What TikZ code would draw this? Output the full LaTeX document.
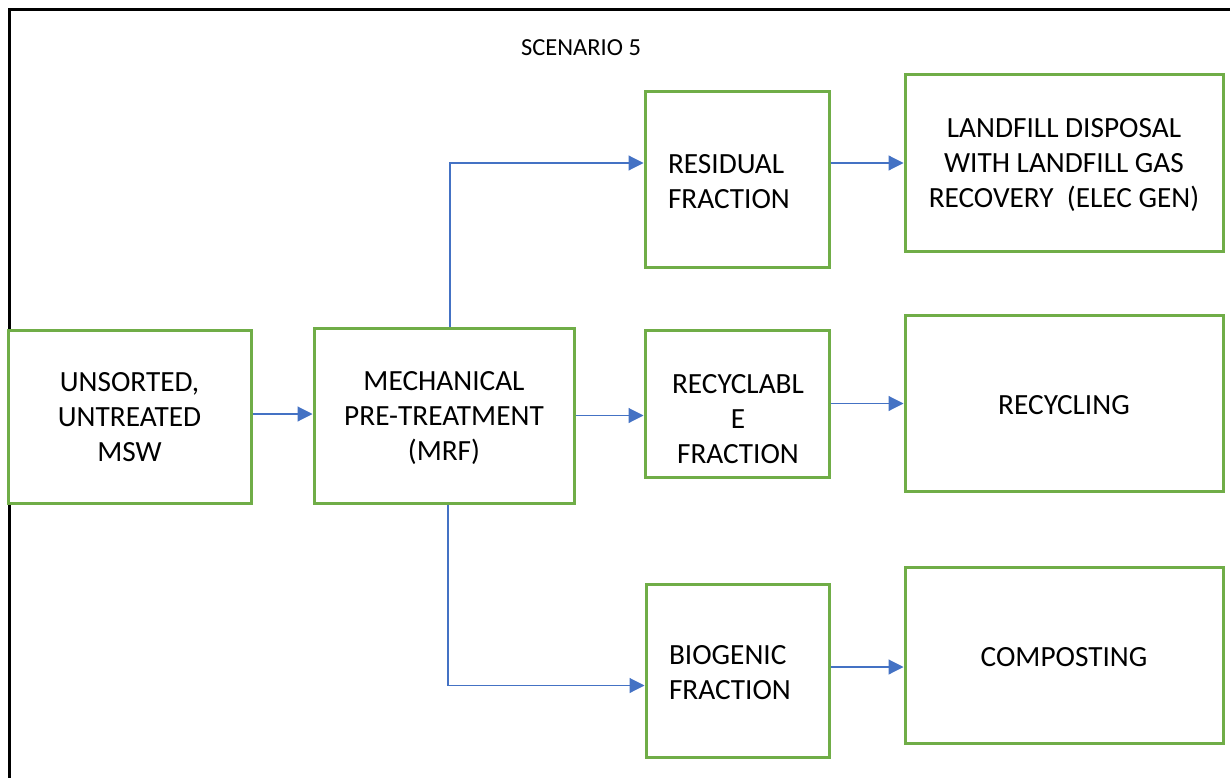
\documentclass[tikz,border=0pt]{standalone}
\usepackage{fontspec}
\setmainfont{Carlito}
\usetikzlibrary{arrows.meta}
\definecolor{boxgreen}{HTML}{70AD47}
\definecolor{flowblue}{HTML}{4472C4}
\tikzset{
  % line struts so every text block sits at the same height in its box
  struts/.style={execute at begin node={\rule{0pt}{29pt}},
                 execute at end node={\rule[-6pt]{0pt}{6pt}}},
  lbl/.style={inner sep=0pt, align=center, struts,
    font=\fontsize{29.3}{35}\selectfont},
  stage/.style={lbl, draw=boxgreen, line width=3pt, fill=white, rectangle},
  leftstage/.style={stage, align=left, inner xsep=23pt},
  flow/.style={draw=flowblue, line width=1.1pt,
    -{Triangle[length=15pt, width=15pt]}},
  frame/.style={draw=black, line width=3pt}
}
\begin{document}
\begin{tikzpicture}[x=1pt, y=-1pt]
  \useasboundingbox (0,0) rectangle (1230,778);
  % open frame: top and left edges only
  \coordinate (fTL) at (9,9.5);
  \coordinate (fTR) at (1230,9.5);
  \coordinate (fBL) at (9,778);
  \draw[frame] (fTR) -- (fTL) -- (fBL);

  \node[inner sep=0pt, font=\fontsize{24.5}{30}\selectfont] (title) at (581,48) {SCENARIO 5};

  % process stages
  \node[stage, text depth=-3pt, minimum width=243pt, minimum height=173pt] (msw) at (129.5,416.5)
    {UNSORTED,\\UNTREATED\\MSW};
  \node[stage, text depth=-8pt, minimum width=260pt, minimum height=175pt] (mrf) at (444,415.5)
    {MECHANICAL\\PRE-TREATMENT\\(MRF)};
  \node[leftstage, text width=138pt, minimum height=175pt] (res) at (737,179.5)
    {RESIDUAL\\FRACTION};
  \node[draw=boxgreen, line width=3pt, rectangle, inner sep=0pt,
        minimum width=184pt, minimum height=147pt] (rcf) at (737,403.5) {};
  \node[lbl] (rcftext) at (738,422) {RECYCLABL\\E\\FRACTION};
  \node[leftstage, text width=137pt, minimum height=173pt] (bio) at (737.5,670.5)
    {BIOGENIC\\FRACTION};

  % end destinations
  \node[stage, text depth=-12pt, minimum width=318pt, minimum height=176pt] (land) at (1064,163)
    {LANDFILL DISPOSAL\\WITH LANDFILL GAS\\RECOVERY\ \ (ELEC GEN)};
  \node[stage, minimum width=318pt, minimum height=176pt] (rcy) at (1064,403)
    {RECYCLING};
  \node[stage, minimum width=318pt, minimum height=176pt] (comp) at (1064,655)
    {COMPOSTING};

  % flows
  \draw[flow] (msw.east |- 0,414) -- (mrf.west |- 0,414);
  \draw[flow] (mrf.east) -- (mrf.east -| rcf.west);
  \draw[flow] ([xshift=6pt]mrf.north) |- (land.west -| res.west);
  \draw[flow] ([xshift=4pt]mrf.south) |- ([yshift=-15pt]bio.west);
  \draw[flow] (land.west -| res.east) -- (land.west);
  \draw[flow] (rcf.east) -- (rcf.east -| rcy.west);
  \draw[flow] (bio.east |- comp.west) ++(0,12) coordinate (bioout) -- (bioout -| comp.west);
\end{tikzpicture}
\end{document}
